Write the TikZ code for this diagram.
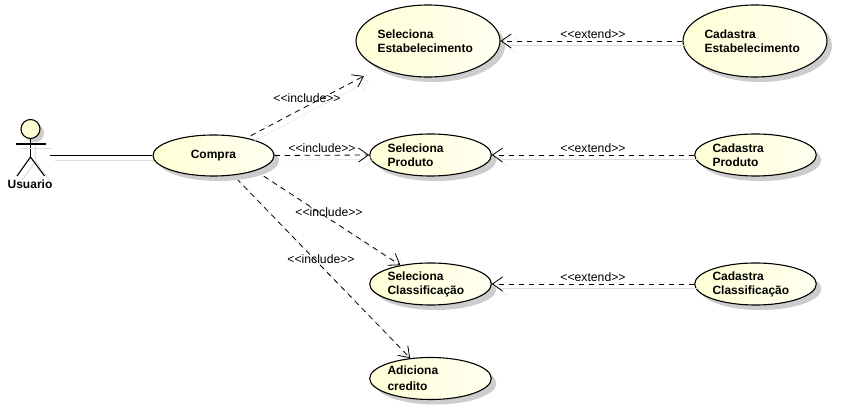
\documentclass[tikz,border=0pt]{standalone}
\usepackage{fontspec}
\setmainfont{Liberation Sans}
\usetikzlibrary{
    shapes.geometric,
    arrows.meta,
    shadows,
    backgrounds
}
\definecolor{casefill}{RGB}{255, 255, 214}
\definecolor{caselight}{RGB}{255, 255, 240}
\definecolor{shadowgray}{RGB}{205, 205, 205}
\definecolor{lineshadow}{RGB}{222, 222, 222}
\tikzset{
    usecase/.style={draw, ellipse, line width=1.1pt, left color=casefill, right color=caselight, inner sep=0pt,
        drop shadow={shadow xshift=5pt, shadow yshift=-5pt, fill=shadowgray, opacity=1},
        align=left, font=\fontsize{12}{14}\selectfont\bfseries},
    smallcase/.style={usecase, text width=86pt, minimum width=121pt, minimum height=42pt},
    bigcase/.style={usecase, text width=101pt, minimum width=144pt, minimum height=72pt},
    lineshade/.style={preaction={draw=lineshadow, solid, transform canvas={xshift=5pt, yshift=-4.5pt}}},
    depends/.style={lineshade, line width=0.8pt, dash pattern=on 5.5pt off 4.5pt, -{Straight Barb[length=10pt, width=14pt]}},
    stereo/.style={font=\fontsize{12.2}{14}\selectfont}
}
\begin{document}
\begin{tikzpicture}[x=1pt, y=1pt]
    \useasboundingbox (0,0) rectangle (846,412);

    % Actor
    \node[draw, circle, line width=1.1pt, minimum size=19pt, inner sep=0pt, fill=casefill, drop shadow={shadow xshift=4pt, shadow yshift=-4pt, fill=shadowgray, opacity=1}] (usuario) at (30.5,283) {};
    \coordinate (hip) at (30.5,255);
    \coordinate (armL) at (15.5,268);
    \coordinate (armR) at (45.5,268);
    \coordinate (footL) at (17,236);
    \coordinate (footR) at (44.5,236);
    \coordinate (usuarioEnd) at (50,256.5);
    \begin{scope}[line width=1.1pt]
        \draw[lineshade] (usuario) -- (hip);
        \draw[lineshade] (armL) -- (armR);
        \draw[lineshade] (footL) -- (hip) -- (footR);
    \end{scope}
    \node[font=\fontsize{12}{14}\selectfont\bfseries] (usuarioLabel) at (30,228) {Usuario};

    % Use cases
    \node[usecase, minimum width=121pt, minimum height=41pt] (compra) at (213.5,256.5) {Compra};
    \node[bigcase] (selEstab) at (428,371) {Seleciona\\Estabelecimento};
    \node[bigcase] (cadEstab) at (755,371) {Cadastra\\Estabelecimento};
    \node[smallcase] (selProd) at (430.5,257) {Seleciona\\Produto};
    \node[smallcase] (cadProd) at (755.5,257) {Cadastra\\Produto};
    \node[smallcase] (selClass) at (430.5,128) {Seleciona\\Classificação};
    \node[smallcase] (cadClass) at (755.5,128) {Cadastra\\Classificação};
    \node[smallcase] (adiciona) at (430.5,33.5) {Adiciona\\[2pt]credito};

    % Free end of the include arrow
    \coordinate (estabTip) at (364,336);

    % Connectors under the shadows
    \begin{scope}[on background layer]
        \draw[lineshade, line width=1.1pt] (usuarioEnd) -- (compra.west);
        \draw[depends] (compra.-20) -- (selClass.148);
        \draw[depends, dash phase=5.5pt] (compra.-45) -- (adiciona.135);
    \end{scope}

    % Connectors
    \draw[depends, dash phase=5.5pt] (compra.28) -- (estabTip);
    \draw[depends] (compra.east) -- (selProd.west);
    \draw[depends] (cadEstab.west) -- (selEstab.east);
    \draw[depends] (cadProd.west) -- (selProd.east);
    \draw[depends] (cadClass.west) -- (selClass.east);

    % Stereotypes
    \node[stereo] (incEstab) at (307,314) {<{}<include>{}>};
    \node[stereo] (incProd) at (322,264) {<{}<include>{}>};
    \node[stereo] (incClass) at (329,200) {<{}<include>{}>};
    \node[stereo] (incAdic) at (321,153) {<{}<include>{}>};
    \node[stereo] (extEstab) at (593,378) {<{}<extend>{}>};
    \node[stereo] (extProd) at (593,264) {<{}<extend>{}>};
    \node[stereo] (extClass) at (593,135) {<{}<extend>{}>};
\end{tikzpicture}
\end{document}
